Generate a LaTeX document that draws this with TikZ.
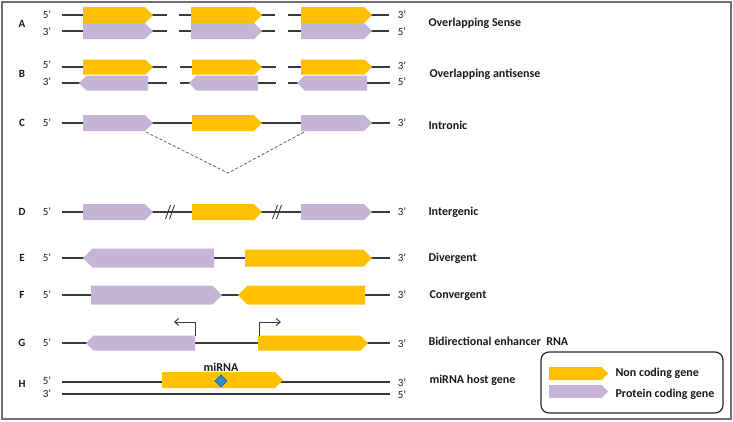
\documentclass[tikz,border=0pt]{standalone}
\usepackage{fontspec}
\setmainfont{Carlito}
\usetikzlibrary{arrows.meta}
\definecolor{ncg}{HTML}{FFC000}
\definecolor{pcg}{HTML}{C5B4D5}
\definecolor{strandc}{HTML}{3A3A3A}
\definecolor{framec}{HTML}{707070}
\definecolor{mirc}{HTML}{2F8FC8}
% forward gene: x1 x2 y h colour
\newcommand{\genefw}[5]{\fill[#5] (#1,#3-#4/2) -- (#2-#4/2,#3-#4/2) -- (#2,#3) -- (#2-#4/2,#3+#4/2) -- (#1,#3+#4/2) -- cycle;}
% reverse gene: xtip x2 y h colour
\newcommand{\generv}[5]{\fill[#5] (#1,#3) -- (#1+#4/2,#3-#4/2) -- (#2,#3-#4/2) -- (#2,#3+#4/2) -- (#1+#4/2,#3+#4/2) -- cycle;}
\begin{document}
\begin{tikzpicture}[x=1pt,y=-1pt,
  strandline/.style={draw=strandc,line width=1.1pt},
  rowletter/.style={font=\bfseries\fontsize{11}{12}\selectfont,text=black!90},
  endlab/.style={font=\fontsize{11}{12}\selectfont,text=black!90},
  desc/.style={anchor=west,font=\bfseries\fontsize{12}{14}\selectfont,text=black!90},
  breakmark/.style={draw=strandc,line width=0.9pt}]
\useasboundingbox (0,0) rectangle (733,421);
\draw[framec,line width=1.5pt] (2,2) rectangle (731,419);

% ---------- Row A ----------
\foreach \a/\b in {62/167,179/275,288/389}{
  \draw[strandline] (\a,15) -- (\b,15);
  \draw[strandline] (\a,31) -- (\b,31);}
\foreach \a/\b in {83/153,191/262,301/372}{
  \genefw{\a}{\b}{15}{16}{ncg}
  \genefw{\a}{\b}{31}{16}{pcg}}
\node[rowletter] (lA) at (22,24) {A};
\node[endlab] (a5l) at (47,15) {5’};
\node[endlab] (a3l) at (47,32) {3’};
\node[endlab] (a3r) at (402,15) {3’};
\node[endlab] (a5r) at (402,32) {5’};
\node[desc] (dA) at (425,23) {Overlapping Sense};

% ---------- Row B ----------
\foreach \a/\b in {62/167,180/276,288/390}{
  \draw[strandline] (\a,67) -- (\b,67);
  \draw[strandline] (\a,83) -- (\b,83);}
\foreach \a/\b in {83/153,192/262,301/372}{
  \genefw{\a}{\b}{67}{15}{ncg}}
\foreach \a/\b in {79/148,189/258,297/367}{
  \generv{\a}{\b}{83}{15}{pcg}}
\node[rowletter] (lB) at (22,74) {B};
\node[endlab] (b5l) at (47,65) {5’};
\node[endlab] (b3l) at (47,82) {3’};
\node[endlab] (b3r) at (402,66) {3’};
\node[endlab] (b5r) at (402,82) {5’};
\node[desc] (dB) at (426,74) {Overlapping antisense};

% ---------- Row C ----------
\draw[strandline] (62,123) -- (390,123);
\genefw{83}{153}{123}{16}{pcg}
\genefw{192}{262}{123}{16}{ncg}
\genefw{301}{372}{123}{16}{pcg}
\coordinate (cL) at (146,132);
\coordinate (cV) at (228,173);
\coordinate (cR) at (306,131);
\draw[strandc!80,line width=0.8pt,dash pattern=on 3pt off 2pt] (cL) -- (cV) -- (cR);
\node[rowletter] (lC) at (22,123) {C};
\node[endlab] (c5l) at (47,123) {5’};
\node[endlab] (c3r) at (402,123) {3’};
\node[desc] (dC) at (425,125) {Intronic};

% ---------- Row D ----------
\draw[strandline] (62,212) -- (390,212);
\genefw{83}{153}{212}{16}{pcg}
\genefw{192}{262}{212}{16}{ncg}
\genefw{301}{372}{212}{16}{pcg}
\foreach \m in {170,277}{
  \draw[breakmark] (\m-4.5,219) -- (\m+0.5,205);
  \draw[breakmark] (\m-0.5,219) -- (\m+4.5,205);}
\node[rowletter] (lD) at (22,212) {D};
\node[endlab] (d5l) at (47,212) {5’};
\node[endlab] (d3r) at (402,212) {3’};
\node[desc] (dD) at (425,212) {Intergenic};

% ---------- Row E ----------
\draw[strandline] (62,258) -- (390,258);
\generv{83}{214}{258}{19}{pcg}
\genefw{245}{372}{258}{17}{ncg}
\node[rowletter] (lE) at (22,258) {E};
\node[endlab] (e5l) at (47,258) {5’};
\node[endlab] (e3r) at (402,258) {3’};
\node[desc] (dE) at (425,258) {Divergent};

% ---------- Row F ----------
\draw[strandline] (62,295) -- (390,295);
\genefw{91}{222}{295}{19}{pcg}
\generv{238}{365}{295}{19}{ncg}
\node[rowletter] (lF) at (22,295) {F};
\node[endlab] (f5l) at (47,295) {5’};
\node[endlab] (f3r) at (402,295) {3’};
\node[desc] (dF) at (426,296) {Convergent};

% ---------- Row G ----------
\draw[strandline] (62,343) -- (390,343);
\generv{86}{195}{343}{15}{pcg}
\genefw{258}{368}{343}{15}{ncg}
\coordinate (gL0) at (195,335.5);
\coordinate (gL1) at (195,322);
\coordinate (gL2) at (174,322);
\coordinate (gR0) at (259,335.5);
\coordinate (gR1) at (259,322);
\coordinate (gR2) at (281,322);
\draw[strandc,line width=1pt,-{Straight Barb[length=4pt,width=7pt]}] (gL0) -- (gL1) -- (gL2);
\draw[strandc,line width=1pt,-{Straight Barb[length=4pt,width=7pt]}] (gR0) -- (gR1) -- (gR2);
\node[rowletter] (lG) at (22,343) {G};
\node[endlab] (g5l) at (47,343) {5’};
\node[endlab] (g3r) at (402,344) {3’};
\node[desc] (dG) at (425,341) {Bidirectional enhancer\ \ RNA};

% ---------- Row H ----------
\draw[strandline] (62,382) -- (390,382);
\draw[strandline] (62,394) -- (390,394);
\genefw{162}{283}{380}{16}{ncg}
\fill[mirc,draw=mirc!60!black,line width=0.6pt] (221,375) -- (227,381) -- (221,387) -- (215,381) -- cycle;
\node[font=\bfseries\fontsize{12}{13}\selectfont,text=black!90] (mirlab) at (221,367) {miRNA};
\node[rowletter] (lH) at (22,384) {H};
\node[endlab] (h5l) at (47,381) {5’};
\node[endlab] (h3l) at (47,394) {3’};
\node[endlab] (h3r) at (402,383) {3’};
\node[endlab] (h5r) at (402,395) {5’};
\node[desc] (dH) at (426,380) {miRNA host gene};

% ---------- Legend ----------
\draw[black!85,line width=1.2pt,rounded corners=8pt] (541,352) rectangle (723,413);
\genefw{549}{608}{373.5}{13}{ncg}
\genefw{549}{608}{391.5}{13}{pcg}
\node[desc] (lgN) at (612,373) {Non coding gene};
\node[desc] (lgP) at (612,394) {Protein coding gene};
\end{tikzpicture}
\end{document}
